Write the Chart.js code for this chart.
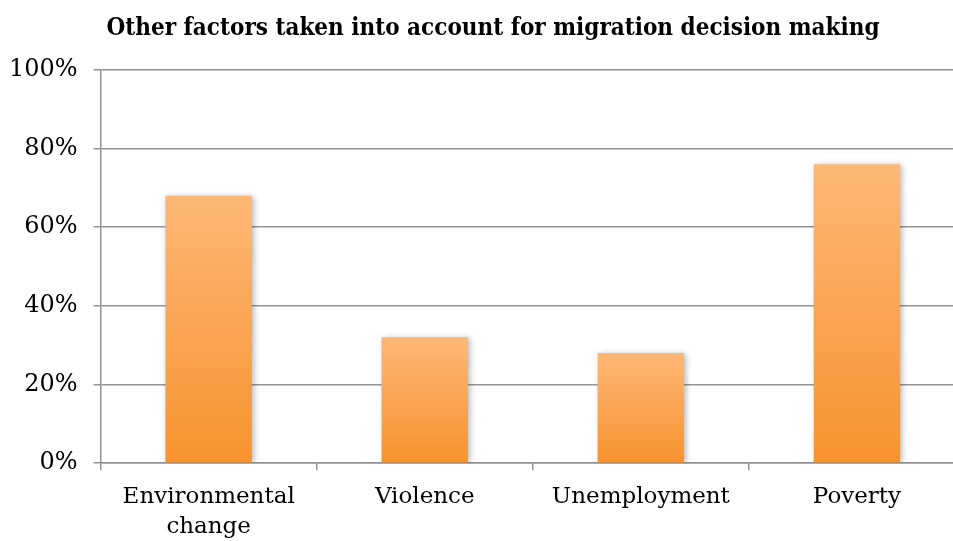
<!DOCTYPE html>
<html>
<head>
<meta charset="utf-8">
<script src="https://cdn.jsdelivr.net/npm/chart.js@4/dist/chart.umd.min.js"></script>
<style>
html,body{margin:0;padding:0;background:#fff;overflow:hidden;}
body{width:953px;height:541px;position:relative;}
#wrap{width:1000px;height:554px;position:absolute;left:-7px;top:0;}
</style>
</head>
<body>
<div id="wrap"><canvas id="c"></canvas></div>
<script>
const categories = [["Environmental","change"], "Violence", "Unemployment", "Poverty"];
const values = [68, 32, 28, 76];
const yTicks = [0, 20, 40, 60, 80, 100];
const titleText = "Other factors taken into account for migration decision making";

const gridColor = '#939393';

const shadowPlugin = {
  id: 'barShadow',
  afterLayout(chart) {
    // shift title box so it is centred like the original figure
    if (chart.titleBlock) { chart.titleBlock.left += 28; }
  },
  beforeDatasetsDraw(chart) {
    const c = chart.ctx;
    c.save();
    c.shadowColor = 'rgba(0,0,0,0.28)';
    c.shadowBlur = 6;
    c.shadowOffsetX = 2;
    c.shadowOffsetY = 1;
  },
  afterDatasetsDraw(chart) {
    chart.ctx.restore();
  }
};

new Chart(document.getElementById('c'), {
  type: 'bar',
  data: {
    labels: categories,
    datasets: [{
      data: values,
      borderWidth: 0,
      barPercentage: 0.4,
      categoryPercentage: 1.0,
      backgroundColor: (ctx) => {
        const chart = ctx.chart;
        const ys = chart.scales.y;
        if (!ys || ctx.raw === undefined) return '#F9A04F';
        const top = ys.getPixelForValue(ctx.raw);
        const bot = ys.getPixelForValue(0);
        if (!isFinite(top) || !isFinite(bot) || top === bot) return '#F9A04F';
        const g = chart.ctx.createLinearGradient(0, top, 0, bot);
        g.addColorStop(0, '#FDB876');
        g.addColorStop(1, '#F8922E');
        return g;
      }
    }]
  },
  options: {
    responsive: true,
    maintainAspectRatio: false,
    animation: false,
    layout: { padding: { left: 0, right: 28, top: 0, bottom: 0 } },
    plugins: {
      legend: { display: false },
      tooltip: { enabled: false },
      title: {
        display: true,
        text: titleText,
        color: '#000',
        font: { family: "'DejaVu Serif Condensed', 'DejaVu Serif', serif", size: 24, weight: 'bold' },
        padding: { top: 14, bottom: 27 }
      }
    },
    scales: {
      x: {
        grid: { display: true, drawOnChartArea: false, drawTicks: true, tickLength: 7, color: gridColor, lineWidth: 1.5, offset: true },
        border: { display: true, color: gridColor, width: 1.5 },
        ticks: {
          color: '#000',
          padding: 12,
          maxRotation: 0,
          autoSkip: false,
          font: { family: "'DejaVu Serif', serif", size: 23, lineHeight: 1.3 }
        }
      },
      y: {
        min: 0,
        max: 100,
        afterBuildTicks: (axis) => { axis.ticks = yTicks.map(v => ({ value: v })); },
        grid: { color: gridColor, lineWidth: 1.5, tickLength: 7 },
        border: { display: true, color: gridColor, width: 1.5 },
        ticks: {
          color: '#000',
          padding: 16,
          font: { family: "'DejaVu Serif', serif", size: 24 },
          callback: (v) => v + '%'
        }
      }
    }
  },
  plugins: [shadowPlugin]
});
</script>
</body>
</html>
